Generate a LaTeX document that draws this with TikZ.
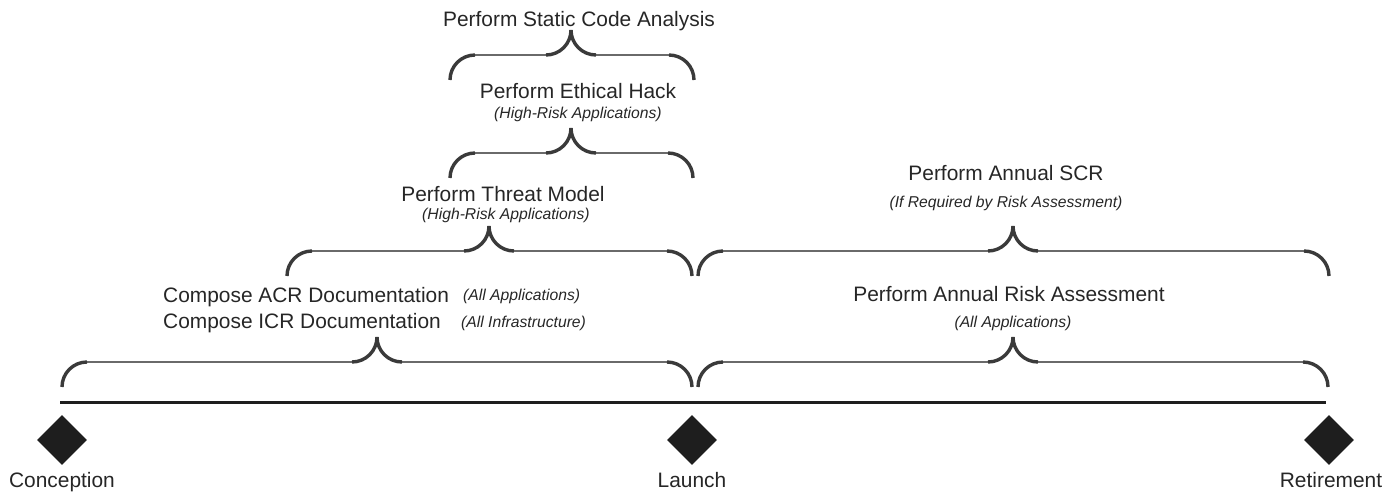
\documentclass[tikz,border=0pt]{standalone}
\usepackage{fontspec}
\setmainfont{Liberation Sans}
\usetikzlibrary{shapes.geometric}

\definecolor{ink}{HTML}{262626}
\definecolor{curl}{HTML}{3A3A3A}
\definecolor{bar}{HTML}{6A6A6A}
\definecolor{axis}{HTML}{1E1E1E}

\tikzset{
  label/.style={font=\fontsize{20.9}{24}\selectfont, text=ink, inner sep=0pt},
  note/.style={font=\fontsize{15.7}{18}\selectfont\itshape, text=ink, inner sep=0pt},
  milestone/.style={diamond, fill=axis, draw=none, minimum width=50pt, minimum height=50pt, inner sep=0pt},
  timeline/.style={draw=axis, line width=3pt},
  bracethin/.style={draw=bar, line width=1.6pt},
  bracethick/.style={draw=curl, line width=3.4pt},
}

% curly brace: left end x, cusp x, right end x, bar depth (pixels from top)
\newcommand\curlyspan[4]{%
  \draw[bracethin] (#1+24,-#4) -- (#2-24,-#4);
  \draw[bracethin] (#2+24,-#4) -- (#3-24,-#4);
  \draw[bracethick] (#1,-#4-25) arc[start angle=180,end angle=90,radius=25pt];
  \draw[bracethick] (#2-25,-#4) arc[start angle=270,end angle=360,radius=25pt];
  \draw[bracethick] (#2+25,-#4) arc[start angle=270,end angle=180,radius=25pt];
  \draw[bracethick] (#3,-#4-25) arc[start angle=0,end angle=90,radius=25pt];
}

\begin{document}
\begin{tikzpicture}[x=1pt,y=1pt]
\useasboundingbox (0,-493) rectangle (1395,0);

% milestones and the time axis
\node[milestone] (conc) at (62,-440) {};
\node[milestone] (laun) at (692,-440) {};
\node[milestone] (reti) at (1329,-440) {};
\coordinate (tl-start) at (60,-402);
\coordinate (tl-end) at (1326,-402);
\draw[timeline] (tl-start) -- (tl-end);

\node[label, anchor=base] (conc-lbl) at (62,-487) {Conception};
\node[label, anchor=base] (laun-lbl) at (692,-487) {Launch};
\node[label, anchor=base] (reti-lbl) at (1331,-487) {Retirement};

% braces, bottom to top
\curlyspan{62}{377}{692}{362}
\curlyspan{698}{1013}{1328}{362}
\curlyspan{287}{489}{692}{251}
\curlyspan{698}{1013}{1329}{251}
\curlyspan{450}{571}{693}{153}
\curlyspan{450}{571}{694}{55}

% development phase activities
\node[label, anchor=base west] (acr) at (163,-302) {Compose ACR Documentation};
\node[note, anchor=base west] (acr-note) at (463,-300) {(All Applications)};
\node[label, anchor=base west] (icr) at (163,-328) {Compose ICR Documentation};
\node[note, anchor=base west] (icr-note) at (461,-327) {(All Infrastructure)};

\node[label, anchor=base] (threat) at (503,-201) {Perform Threat Model};
\node[note, anchor=base] (threat-note) at (506,-219) {(High-Risk Applications)};

\node[label, anchor=base] (hack) at (578,-98) {Perform Ethical Hack};
\node[note, anchor=base] (hack-note) at (578,-118) {(High-Risk Applications)};

\node[label, anchor=base] (sca) at (579,-26) {Perform Static Code Analysis};

% operations phase activities
\node[label, anchor=base] (risk) at (1009,-301) {Perform Annual Risk Assessment};
\node[note, anchor=base] (risk-note) at (1013,-327) {(All Applications)};

\node[label, anchor=base] (scr) at (1006,-180) {Perform Annual SCR};
\node[note, anchor=base] (scr-note) at (1006,-207) {(If Required by Risk Assessment)};
\end{tikzpicture}
\end{document}
